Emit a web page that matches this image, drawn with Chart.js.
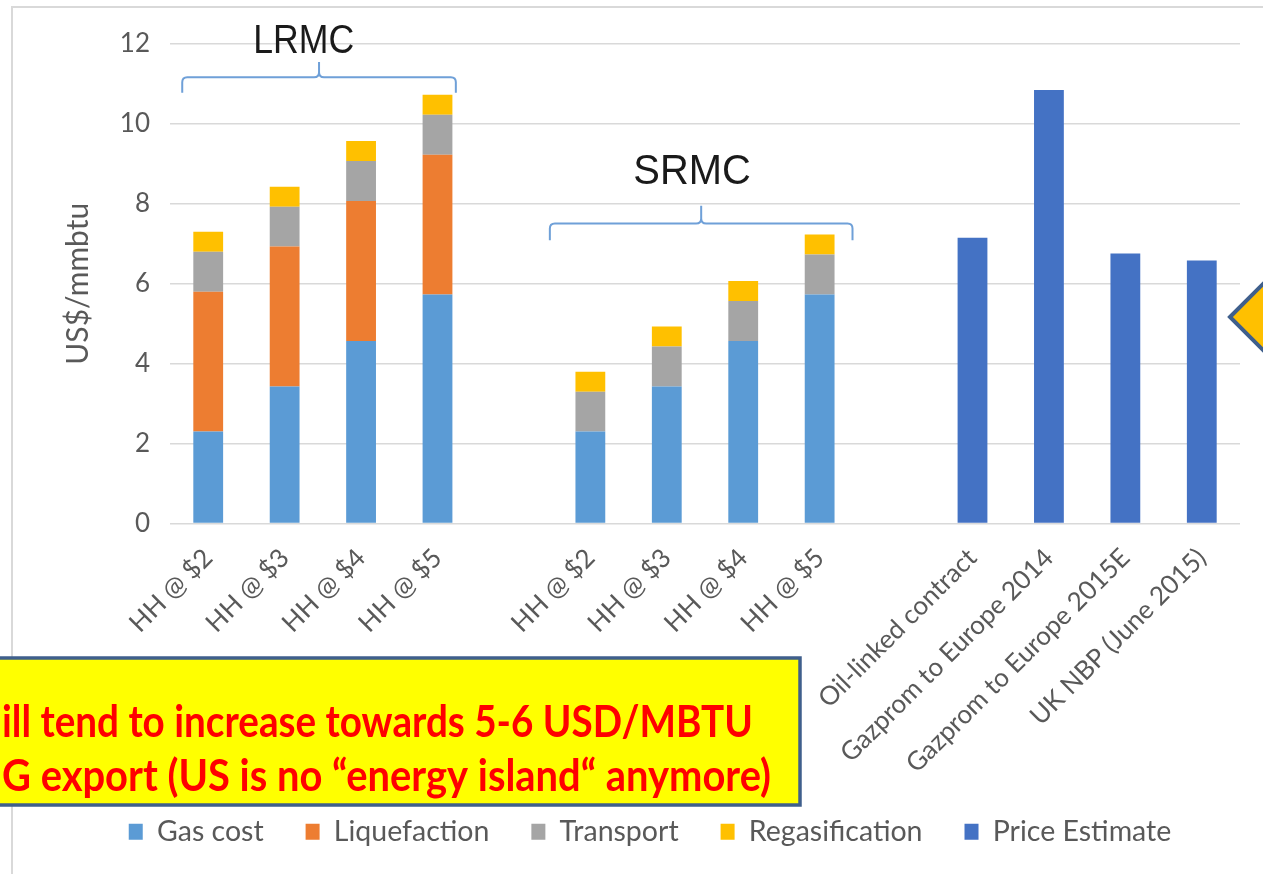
<!DOCTYPE html>
<html>
<head>
<meta charset="utf-8">
<script src="https://cdn.jsdelivr.net/npm/chart.js@4.4.0/dist/chart.umd.min.js"></script>
<style>
  html, body { margin: 0; padding: 0; background: #fff; }
  #wrap { width: 1263px; height: 874px; }
</style>
</head>
<body>
<div id="wrap"><canvas id="lngChart" width="1263" height="874"></canvas></div>
<script>
// categories: LRMC group, gap, SRMC group, gap, price references
const categories = [
    'HH @ $2', 'HH @ $3', 'HH @ $4', 'HH @ $5', '',
    'HH @ $2', 'HH @ $3', 'HH @ $4', 'HH @ $5', '',
    'Oil-linked contract', 'Gazprom to Europe 2014', 'Gazprom to Europe 2015E', 'UK NBP (June 2015)'
];
const gasCost      = [2.3, 3.43, 4.57, 5.73, null, 2.3, 3.43, 4.57, 5.73, null, null, null, null, null];
const liquefaction = [3.5, 3.5, 3.5, 3.5, null, null, null, null, null, null, null, null, null, null];
const transport    = [1.0, 1.0, 1.0, 1.0, null, 1.0, 1.0, 1.0, 1.0, null, null, null, null, null];
const regas        = [0.5, 0.5, 0.5, 0.5, null, 0.5, 0.5, 0.5, 0.5, null, null, null, null, null];
const priceEstimate = [null, null, null, null, null, null, null, null, null, null, 7.15, 10.85, 6.76, 6.58];
const yTicks = [0, 2, 4, 6, 8, 10, 12];

const calloutLines = [
    'ill tend to increase towards 5-6 USD/MBTU',
    'G export (US is no \u201Cenergy island\u201C anymore)'
];

const GREY_TXT = '#595959';

// curly brace opening downwards, tip pointing up
function drawBrace(ctx, x0, x1, yEnd, yBar, yTip) {
    const xm = (x0 + x1) / 2;
    const r = 5;
    ctx.beginPath();
    ctx.moveTo(x0, yEnd);
    ctx.lineTo(x0, yBar + r);
    ctx.quadraticCurveTo(x0, yBar, x0 + r, yBar);
    ctx.lineTo(xm - r, yBar);
    ctx.quadraticCurveTo(xm, yBar, xm, yBar - r);
    ctx.lineTo(xm, yTip);
    ctx.moveTo(xm, yBar - r);
    ctx.quadraticCurveTo(xm, yBar, xm + r, yBar);
    ctx.lineTo(x1 - r, yBar);
    ctx.quadraticCurveTo(x1, yBar, x1, yBar + r);
    ctx.lineTo(x1, yEnd);
    ctx.stroke();
}

const decorPlugin = {
    id: 'decor',
    afterLayout(chart) {
        // long rotated labels may run below the fixed axis box; don't clip them
        chart.scales.x._computeLabelArea = () => undefined;
    },
    beforeDraw(chart) {
        const ctx = chart.ctx;
        ctx.save();
        ctx.strokeStyle = '#d9d9d9';
        ctx.lineWidth = 2;
        ctx.strokeRect(12, 7, 1400, 1000);
        ctx.restore();
    },
    afterDatasetsDraw(chart) {
        const ctx = chart.ctx;
        const x = chart.scales.x, y = chart.scales.y;
        const half = x.getPixelForValue(1) - x.getPixelForValue(0);
        ctx.save();
        ctx.strokeStyle = '#6fa0d8';
        ctx.lineWidth = 2;
        // LRMC brace over first group
        drawBrace(ctx, x.getPixelForValue(0) - half * 0.34, x.getPixelForValue(3) + half * 0.24,
            y.getPixelForValue(10.78), y.getPixelForValue(11.17), y.getPixelForValue(11.55));
        // SRMC brace over second group
        drawBrace(ctx, x.getPixelForValue(5) - half * 0.53, x.getPixelForValue(8) + half * 0.43,
            y.getPixelForValue(7.09), y.getPixelForValue(7.51), y.getPixelForValue(7.95));

        ctx.fillStyle = '#1a1a1a';
        ctx.textAlign = 'center';
        ctx.textBaseline = 'alphabetic';
        ctx.font = '36px "Liberation Sans", Arial, sans-serif';
        ctx.save();
        ctx.translate(x.getPixelForValue(1.25), y.getPixelForValue(11.77));
        ctx.scale(0.99, 1.15);
        ctx.fillText('LRMC', 0, 0);
        ctx.restore();
        ctx.font = '38px "Liberation Sans", Arial, sans-serif';
        ctx.save();
        ctx.translate(x.getPixelForValue(6.33), y.getPixelForValue(8.5));
        ctx.scale(1.05, 1.1);
        ctx.fillText('SRMC', 0, 0);
        ctx.restore();
        ctx.restore();
    },
    afterDraw(chart) {
        const ctx = chart.ctx;
        ctx.save();
        // yellow callout, clipped on the left
        ctx.fillStyle = '#ffff00';
        ctx.strokeStyle = '#3f5f8c';
        ctx.lineWidth = 3.5;
        ctx.fillRect(-20, 658, 820, 147);
        ctx.strokeRect(-20, 658, 820, 147);
        ctx.fillStyle = '#ff0000';
        ctx.font = 'bold 36px Lato, "Open Sans", sans-serif';
        ctx.textAlign = 'left';
        const ends = [753, 771];
        const bases = [723, 777];
        calloutLines.forEach((t, i) => {
            const w = ctx.measureText(t).width;
            const target = ends[i] - 2;
            ctx.save();
            ctx.translate(2, bases[i]);
            ctx.scale(target / w, 1.22);
            ctx.fillText(t, 0, 0);
            ctx.restore();
        });
        // diamond shape at the right edge
        ctx.fillStyle = '#ffc000';
        ctx.strokeStyle = '#3f5f8c';
        ctx.lineWidth = 4;
        ctx.beginPath();
        ctx.moveTo(1230, 317);
        ctx.lineTo(1300, 247);
        ctx.lineTo(1370, 317);
        ctx.lineTo(1300, 387);
        ctx.closePath();
        ctx.fill();
        ctx.stroke();
        ctx.restore();
    }
};

const ctx = document.getElementById('lngChart').getContext('2d');
new Chart(ctx, {
    type: 'bar',
    data: {
        labels: categories,
        datasets: [
            { label: 'Gas cost', data: gasCost, backgroundColor: '#5b9bd5' },
            { label: 'Liquefaction', data: liquefaction, backgroundColor: '#ed7d31' },
            { label: 'Transport', data: transport, backgroundColor: '#a5a5a5' },
            { label: 'Regasification', data: regas, backgroundColor: '#ffc000' },
            { label: 'Price Estimate', data: priceEstimate, backgroundColor: '#4472c4' }
        ]
    },
    options: {
        responsive: false,
        animation: false,
        layout: { padding: { left: 60, right: 23, top: 44, bottom: 18 } },
        datasets: { bar: { barPercentage: 0.39, categoryPercentage: 1.0 } },
        scales: {
            x: {
                stacked: true,
                grid: { display: false },
                border: { display: false },
                ticks: {
                    autoSkip: false,
                    maxRotation: 45,
                    minRotation: 45,
                    padding: 11,
                    color: GREY_TXT,
                    font: { family: 'Lato', size: 26 }
                },
                afterFit(scale) { scale.height = 252; }
            },
            y: {
                stacked: true,
                min: 0,
                max: 12,
                afterBuildTicks(scale) { scale.ticks = yTicks.map(v => ({ value: v })); },
                grid: { color: '#d9d9d9', lineWidth: 1.5, drawTicks: false },
                border: { display: false },
                ticks: {
                    padding: 20,
                    color: GREY_TXT,
                    font: { family: 'Lato', size: 26 }
                },
                title: {
                    display: true,
                    text: 'US$/mmbtu',
                    color: GREY_TXT,
                    font: { family: 'Lato', size: 30 },
                    padding: 0
                },
                afterFit(scale) { scale.width = 110; }
            }
        },
        plugins: {
            legend: {
                position: 'bottom',
                labels: {
                    boxWidth: 14,
                    boxHeight: 16,
                    padding: 42,
                    color: GREY_TXT,
                    font: { family: 'Lato', size: 28.5 }
                }
            },
            tooltip: { enabled: false }
        }
    },
    plugins: [decorPlugin]
});
</script>
</body>
</html>
